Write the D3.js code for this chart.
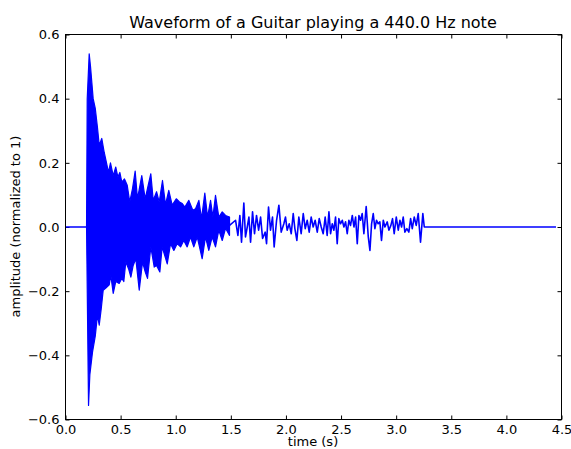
<!DOCTYPE html>
<html>
<head>
<meta charset="utf-8">
<script src="https://cdn.jsdelivr.net/npm/d3@7"></script>
<style>
  body { margin: 0; background: #fff; }
  svg { display: block; font-family: "DejaVu Sans", sans-serif; }
  .axis path { display: none; }
  .axis line { stroke: #000; }
  .axis text { font-size: 13px; fill: #000; font-family: "DejaVu Sans", sans-serif; }
</style>
</head>
<body>
<div id="chart"></div>
<script>
// dense attack part of the note, drawn as a filled band (upper / lower envelope)
const upperTime = [0.191, 0.197, 0.215, 0.227, 0.239, 0.251, 0.270, 0.290, 0.306, 0.329, 0.351, 0.372, 0.390, 0.408, 0.433, 0.456, 0.475, 0.493, 0.511, 0.535, 0.560, 0.583, 0.608, 0.632, 0.653, 0.692, 0.723, 0.744, 0.774, 0.796, 0.826, 0.850, 0.880, 0.907, 0.937, 0.968, 1.005, 1.034, 1.059, 1.083, 1.119, 1.155, 1.180, 1.210, 1.234, 1.264, 1.289, 1.316, 1.337, 1.361, 1.391, 1.422, 1.452, 1.488];
const upperAmp = [0.0, 0.40, 0.54, 0.50, 0.45, 0.40, 0.37, 0.31, 0.255, 0.276, 0.233, 0.20, 0.17, 0.20, 0.16, 0.187, 0.156, 0.17, 0.14, 0.15, 0.13, 0.078, 0.12, 0.174, 0.088, 0.16, 0.088, 0.12, 0.166, 0.083, 0.11, 0.078, 0.145, 0.07, 0.114, 0.068, 0.088, 0.078, 0.073, 0.062, 0.083, 0.052, 0.057, 0.083, 0.026, 0.106, 0.031, 0.083, 0.031, 0.099, 0.031, 0.047, 0.036, 0.031];

const lowerTime = [0.191, 0.209, 0.221, 0.245, 0.270, 0.290, 0.306, 0.324, 0.342, 0.366, 0.397, 0.411, 0.433, 0.456, 0.487, 0.511, 0.529, 0.547, 0.572, 0.593, 0.614, 0.638, 0.669, 0.699, 0.723, 0.744, 0.774, 0.805, 0.826, 0.856, 0.877, 0.923, 0.953, 0.983, 1.013, 1.044, 1.073, 1.104, 1.134, 1.164, 1.195, 1.240, 1.270, 1.300, 1.331, 1.361, 1.391, 1.422, 1.452, 1.488];
const lowerAmp = [0.0, -0.556, -0.46, -0.39, -0.34, -0.275, -0.306, -0.255, -0.197, -0.19, -0.18, -0.15, -0.207, -0.17, -0.176, -0.16, -0.17, -0.109, -0.13, -0.156, -0.12, -0.099, -0.197, -0.109, -0.14, -0.16, -0.062, -0.125, -0.12, -0.14, -0.062, -0.115, -0.052, -0.073, -0.052, -0.062, -0.042, -0.062, -0.031, -0.062, -0.031, -0.099, -0.031, -0.073, -0.031, -0.062, -0.010, -0.042, -0.004, -0.026];

// silence before, the decaying tail, and silence after
const waveTime = [0, 0.191, 1.488, 1.543, 1.564, 1.582, 1.597, 1.618, 1.633, 1.649, 1.664, 1.679, 1.697, 1.715, 1.733, 1.752, 1.770, 1.788, 1.812, 1.824, 1.842, 1.860, 1.878, 1.893, 1.915, 1.936, 1.957, 1.981, 1.996, 2.011, 2.030, 2.048, 2.066, 2.081, 2.099, 2.117, 2.138, 2.157, 2.175, 2.193, 2.211, 2.229, 2.247, 2.265, 2.284, 2.302, 2.320, 2.338, 2.356,
  2.374, 2.390, 2.405, 2.420, 2.435, 2.450, 2.465, 2.480, 2.495, 2.511, 2.526, 2.541, 2.556, 2.571, 2.586, 2.602, 2.617, 2.632, 2.647, 2.662, 2.677, 2.692, 2.707, 2.728, 2.747, 2.762, 2.777, 2.792, 2.807, 2.822, 2.837, 2.852, 2.867, 2.883, 2.898, 2.919, 2.934, 2.952, 2.967, 2.982, 3.001, 3.019, 3.034, 3.049, 3.064, 3.079, 3.097, 3.115, 3.131, 3.146, 3.164, 3.182, 3.200, 3.221, 3.242, 3.255, 3.267, 4.45];
const waveAmp = [0, 0, 0.005, 0.021, -0.026, 0.036, -0.047, 0.075, -0.031, 0, 0.031, -0.047, 0.047, -0.021, 0.036, -0.010, 0.031, -0.036, -0.016, -0.052, 0.062, -0.010, 0.031, -0.062, 0.021, 0.068, -0.016, 0.010, 0.031, -0.010, 0.010, -0.021, 0.042, -0.005, -0.042, 0.031, -0.021, 0.042, -0.005, 0.021, -0.016, 0.031, 0, 0.021, -0.016, 0.026, 0, -0.021, 0.031,
  -0.026, 0.047, -0.021, 0.010, -0.010, 0.031, -0.052, 0.026, 0.010, 0.021, 0, 0.016, -0.021, 0.021, 0.005, 0.036, 0, 0.031, -0.052, 0.036, 0.021, 0.042, -0.021, 0.064, -0.031, -0.073, 0.010, 0.042, -0.005, 0.021, 0.010, 0.016, -0.042, 0.021, 0, 0.016, -0.010, 0.005, 0.026, -0.021, 0.031, -0.010, 0.021, 0, 0.031, -0.016, -0.005, -0.016, 0.026, -0.005, 0.031, 0.005, 0.042, -0.047, 0.042, 0, 0, 0];

const xTicks = [0, 0.5, 1, 1.5, 2, 2.5, 3, 3.5, 4, 4.5];
const yTicks = [-0.6, -0.4, -0.2, 0, 0.2, 0.4, 0.6];

const width = 571, height = 449;
const margin = {top: 34, right: 10, bottom: 30, left: 65};
const innerW = width - margin.left - margin.right;
const innerH = height - margin.top - margin.bottom;

const svg = d3.select('#chart').append('svg')
  .attr('width', width)
  .attr('height', height);

const g = svg.append('g')
  .attr('transform', `translate(${margin.left + 0.5},${margin.top + 0.5})`);

const x = d3.scaleLinear().domain([0, 4.5]).range([0, innerW]);
const y = d3.scaleLinear().domain([-0.6, 0.6]).range([innerH, 0]);

const fmt = d3.format('.1f');

// axes, ticks pointing inward on all four sides
g.append('g').attr('class', 'axis')
  .attr('transform', `translate(0,${innerH})`)
  .call(d3.axisBottom(x).tickValues(xTicks).tickFormat(fmt).tickSizeInner(-4).tickSizeOuter(0).tickPadding(5));
g.append('g').attr('class', 'axis')
  .call(d3.axisTop(x).tickValues(xTicks).tickFormat('').tickSizeInner(-4).tickSizeOuter(0));
g.append('g').attr('class', 'axis')
  .call(d3.axisLeft(y).tickValues(yTicks).tickFormat(fmt).tickSizeInner(-4).tickSizeOuter(0).tickPadding(6));
g.append('g').attr('class', 'axis')
  .attr('transform', `translate(${innerW},0)`)
  .call(d3.axisRight(y).tickValues(yTicks).tickFormat('').tickSizeInner(-4).tickSizeOuter(0));

// waveform
const upper = d3.zip(upperTime, upperAmp);
const lower = d3.zip(lowerTime, lowerAmp).reverse();
const line = d3.line().x(d => x(d[0])).y(d => y(d[1]));

g.append('path')
  .datum(upper.concat(lower))
  .attr('d', d => line(d) + 'Z')
  .attr('fill', '#0000ff')
  .attr('stroke', '#0000ff')
  .attr('stroke-width', 1.2)
  .attr('stroke-linejoin', 'round');

g.append('path')
  .datum(d3.zip(waveTime, waveAmp))
  .attr('d', line)
  .attr('fill', 'none')
  .attr('stroke', '#0000ff')
  .attr('stroke-width', 1.6)
  .attr('stroke-linejoin', 'round');

// frame
g.append('rect')
  .attr('width', innerW)
  .attr('height', innerH)
  .attr('fill', 'none')
  .attr('stroke', '#000')
  .attr('stroke-width', 1);

// labels
svg.append('text')
  .attr('x', margin.left + innerW / 2)
  .attr('y', 28)
  .attr('text-anchor', 'middle')
  .attr('font-size', 16)
  .text('Waveform of a Guitar playing a 440.0 Hz note');

svg.append('text')
  .attr('x', margin.left + innerW / 2)
  .attr('y', 446)
  .attr('text-anchor', 'middle')
  .attr('font-size', 13)
  .text('time (s)');

svg.append('text')
  .attr('transform', `translate(20,${margin.top + innerH / 2}) rotate(-90)`)
  .attr('text-anchor', 'middle')
  .attr('font-size', 13)
  .text('amplitude (normalized to 1)');
</script>
</body>
</html>
